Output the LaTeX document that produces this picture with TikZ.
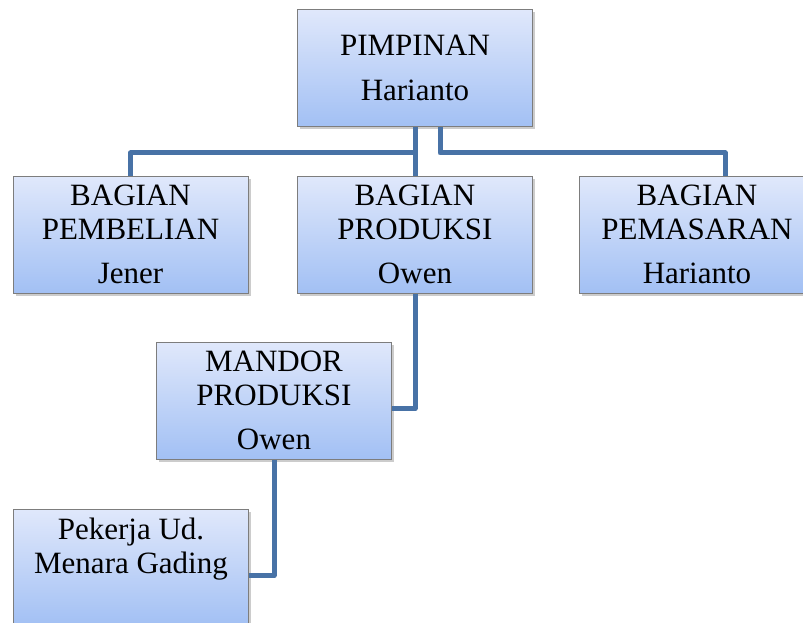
\documentclass[tikz,border=0pt]{standalone}
\usepackage{fontspec}
\setmainfont{Liberation Serif}
\usetikzlibrary{calc,shadows}
\definecolor{garis}{RGB}{72,114,166}
\definecolor{tepi}{RGB}{125,125,125}
\definecolor{atas}{RGB}{224,232,251}
\definecolor{bawah}{RGB}{162,192,244}

\begin{document}
\begin{tikzpicture}[x=1pt,y=-1pt,
        kotak/.style={draw=tepi,line width=1pt,top color=atas,bottom color=bawah,
            minimum width=235pt,minimum height=117pt,align=center,
            font=\fontsize{31}{34}\selectfont,
            drop shadow={shadow xshift=2.5pt,shadow yshift=-2.5pt,opacity=0.4}},
        hubung/.style={draw=garis,line width=5pt,line join=round}]
            \useasboundingbox (0,0) rectangle (803,623);
            \fill[white] (0,0) rectangle (803,623);
            \clip (0,0) rectangle (803,623);

            \node[kotak] (pimpinan) at (415,68) {PIMPINAN\\[11pt]Harianto};
            \node[kotak] (pembelian) at (130.5,234.5) {BAGIAN\\PEMBELIAN\\[10pt]Jener};
            \node[kotak] (produksi) at (415,234.5) {BAGIAN\\PRODUKSI\\[10pt]Owen};
            \node[kotak] (pemasaran) at (697,234.5) {BAGIAN\\PEMASARAN\\[10pt]Harianto};
            \node[kotak] (mandor) at (274,400.5) {MANDOR\\PRODUKSI\\[10pt]Owen};
            \node[kotak] (pekerja) at (131,567.5) {Pekerja Ud.\\Menara Gading\\[10pt]\mbox{}};

            \draw[hubung] (pimpinan.south) -- (produksi.north);
            \draw[hubung] (pimpinan.south) -- ++(0,26) -| (pembelian.north);
            \draw[hubung] ($(pimpinan.south)+(25,0)$) -- ++(0,26) -| ($(pemasaran.north)+(28,0)$);
            \draw[hubung] (produksi.south) |- ($(mandor.east)+(0,8)$);
            \draw[hubung] (mandor.south) |- ($(pekerja.east)+(0,8)$);
        \end{tikzpicture}
\end{document}
